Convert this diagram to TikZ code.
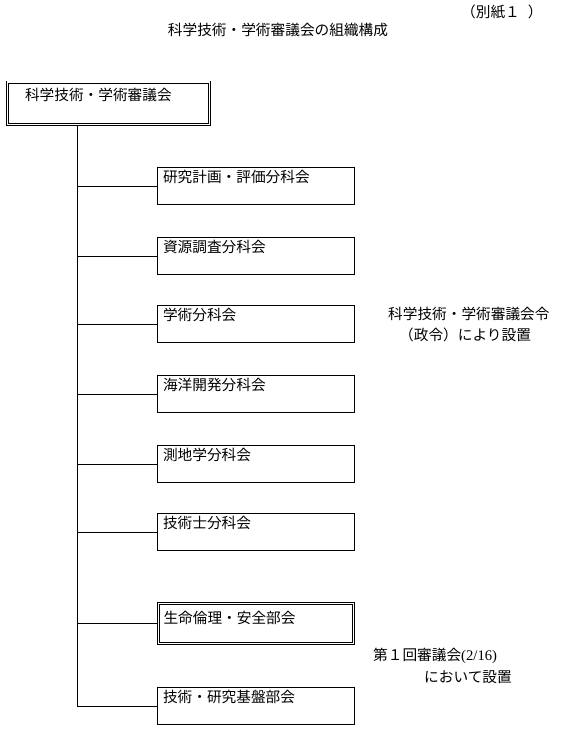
\documentclass[tikz,border=0pt]{standalone}
\usepackage{fontspec}
\setmainfont{Noto Sans CJK JP}
\newfontfamily\latinserif{Liberation Serif}
\usetikzlibrary{positioning,calc}

\begin{document}
\begin{tikzpicture}[x=1pt, y=-1pt,
  every node/.append style={font=\fontsize{14.67pt}{17pt}\selectfont},
  wire/.style={line width=0.8pt},
  subbox/.style={draw, line width=0.8pt, anchor=north west, inner xsep=5.6pt, inner ysep=0pt,
                 text width=186pt, text height=15.4pt, text depth=21.8pt, align=left},
  dblbox/.style={draw, double, line width=0.7pt, double distance=1.6pt, outer sep=1.5pt,
                 anchor=north west, inner xsep=5pt, inner ysep=0pt, align=left},
  txt/.style={inner sep=0pt},
]
\useasboundingbox (0,0) rectangle (562,740);
\node[txt] (title) at (278,30) {科学技術・学術審議会の組織構成};
\node[txt, anchor=west] (annex) at (461,12) {（別紙１\hspace{8pt}）};
\node[dblbox, text width=167pt, inner xsep=17.5pt, text height=18.6pt, text depth=23.9pt]
  (council) at (6,80.5) {科学技術・学術審議会};
\node[subbox] (kenkyu) at (157,167) {研究計画・評価分科会};
\node[subbox] (shigen) at (157,237) {資源調査分科会};
\node[subbox] (gakujutsu) at (157,305) {学術分科会};
\node[subbox] (kaiyo) at (157,375) {海洋開発分科会};
\node[subbox] (sokuchi) at (157,445) {測地学分科会};
\node[subbox] (gijutsushi) at (157,513) {技術士分科会};
\node[dblbox, text width=185pt, text height=20.1pt, text depth=19.9pt]
  (seimei) at (157,602) {生命倫理・安全部会};
\node[subbox] (kiban) at (157,687) {技術・研究基盤部会};
% notes on the right
\node[txt, anchor=west] (decree) at (388,314) {科学技術・学術審議会令};
\node[txt, anchor=west] (decree2) at (399,335) {（政令）により設置};
\node[txt, anchor=west] (meeting) at (373,656) {第１回審議会{\latinserif(2/16)}};
\node[txt, anchor=west] (meeting2) at (424,677) {において設置};
% tree lines
\coordinate (trunk) at ([xshift=71pt]council.south west);
\draw[wire] (trunk) |- (kiban.west);
\foreach \n in {kenkyu,shigen,gakujutsu,kaiyo,sokuchi,gijutsushi,seimei}
  \draw[wire] (trunk |- \n.west) -- (\n.west);
\end{tikzpicture}
\end{document}
